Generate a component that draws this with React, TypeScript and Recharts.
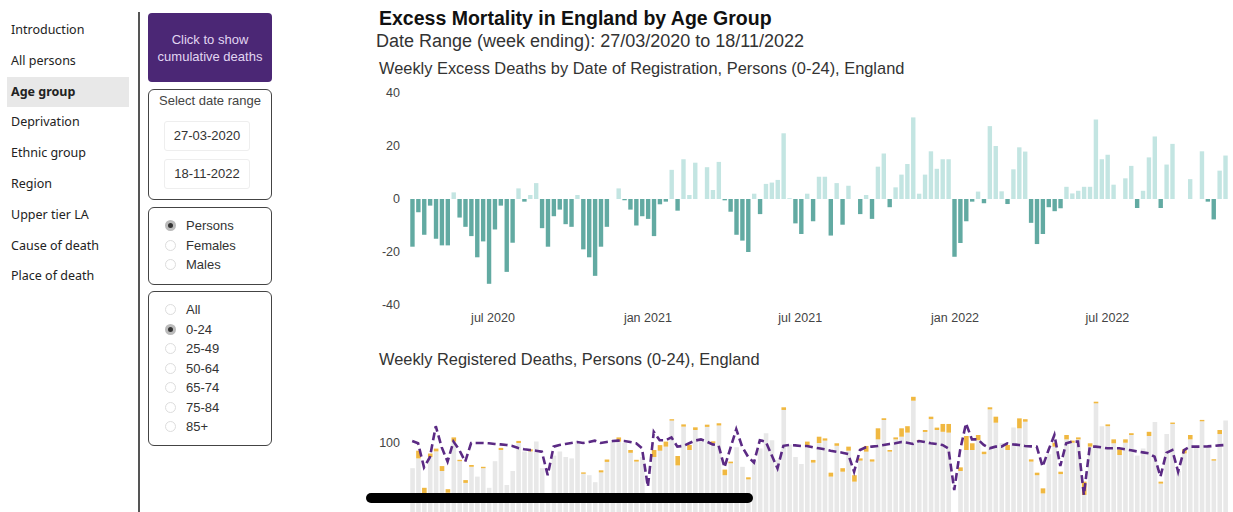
import { BarChart, Bar, Cell, XAxis, YAxis, ComposedChart, Line } from 'recharts';

// week ending dates start here, one bar per week
const firstWeek = '2020-03-27';

// weekly excess deaths, persons 0-24
const excess = [
  -18, -5, -13.5, -2.5, -15, -17.5, -17.5, 2.5, -7, -10.5,
  -14, -22, -16, -32, -11.5, -2.5, -27.5, -16.5, 4, -1,
  1.5, 6, -11, -18, -6.5, -4, -9.5, -10.5, 1.5, -19,
  -22, -29, -18, -10.5, 0, 4, -0.5, -4, -10, -6.5,
  -7.5, -14, -2, -1, 11, -4.4, 15, 1.5, 13.7, 0,
  12, 3.4, 14, -0.5, -4.8, -13.5, -15.7, -20, 2, -5.7,
  5.7, 6.2, 7.2, 24.8, 0.3, -9.2, -13.2, 2, -8.4, 8.4,
  8.4, -13.8, 6, -9.7, 5, 0, -5.7, 1.5, -7.5, 12.2,
  17.2, -3.1, 4.4, 9.2, 13.2, 30.8, 2, 9.2, 18, 11.4,
  15, 15, -21.8, -16.6, -8.4, -1, 2.8, -1.6, 27.5, 20,
  2.9, -1.9, 11.2, 19.5, 17.9, -9, -17, -13.2, -3.1, -4.6,
  -3.5, 4.6, 2.1, 3.1, 4.6, 4.6, 30, 15, 16.7, 5.4,
  0, 7.8, 12.5, -3.4, 3.1, 15.7, 23.6, -3.4, 13, 20.8,
  0, 0, 7.5, 0, 18, -1, -7.7, 10.7, 16.4,
];

// registered deaths split: grey part and orange part stacked on top
const registeredGrey = [
  82, 89, 64, 90, 94, 80, 64.5, 101, 87, 71.5,
  83, 76, 82, 68, 87, 95, 70, 80, 100, 94,
  94, 101, 82, 59, 91, 94, 90, 89, 101, 78,
  77, 72, 79, 86.5, 101, 101, 100, 93, 86.7, 90,
  61, 90, 94.5, 97.4, 116, 84, 111.7, 95, 109.3, 103,
  111.5, 100, 112.5, 77, 85.5, 97, 83, 74, 87, 96,
  107, 102, 88, 123.6, 99, 90, 85, 98.6, 86, 100,
  101.7, 76, 98, 79.5, 94.5, 72.4, 87.4, 93.8, 86.7, 102.6,
  116.4, 93.8, 102.6, 104.5, 107.4, 130.2, 101, 107.9, 117.1, 109.3,
  108, 107.4, 45, 80, 95, 95, 102, 92, 124, 114.5,
  100, 95, 111, 110.5, 115.2, 86.7, 77, 64, 92, 97.4,
  77.8, 102.6, 100.2, 102.6, 62.9, 97.4, 128.3, 112, 112, 99.8,
  91.4, 100.2, 105.7, 91, 96, 105, 115, 71, 106.5, 113.6,
  80, 92.6, 102.6, 97, 115.5, 97, 87.4, 106.4, 116,
];
const registeredOrange = [
  0, 5.5, 4, 2.5, 2, 3.5, 2.5, 3, 1, 2,
  1.3, 0, 1, 0, 0, 1.5, 0, 0, 1.5, 0,
  1.5, 0, 0, 0, 0, 0, 0, 0, 0, 1,
  0, 0, 1.5, 1.7, 0, 3, 0, 2, 1.3, 0,
  0, 5, 4, 3.6, 1, 6.7, 1.6, 3.6, 1.9, 0,
  1.6, 1.2, 1.6, 4, 1.2, 0, 0, 1.5, 0, 0,
  0, 0, 0, 1.9, 0, 0, 0, 2.4, 1.9, 4.5,
  1.6, 2.8, 1.8, 2.5, 2.9, 4.6, 1.6, 4.1, 1.6, 7.9,
  1.2, 1.2, 1.4, 6, 4.6, 2.8, 1.2, 1.4, 1.7, 1.7,
  5.6, 6.2, 0, 2.6, 10, 4.8, 3.7, 1.8, 1.5, 4.3,
  0, 3.6, 0, 7.1, 1.8, 1.6, 1.8, 3.6, 0, 2.8,
  1.7, 3.1, 1.5, 1.4, 9.5, 2.4, 1.2, 0, 1.3, 2.8,
  4.1, 2.4, 1.3, 0, 0, 3, 0, 1.4, 0, 1,
  0, 2.9, 3.1, 0, 1, 0, 1, 2.9, 0,
];

// expected deaths (dashed line)
const expected = [
  101.4, 99.8, 82.6, 89.8, 112, 97, 86.7, 101, 95, 86.7,
  100, 100, 100, 99.8, 99.3, 99, 98.6, 97.9, 96.4, 95.5,
  95, 94.5, 93.8, 77, 97.4, 98.6, 99.3, 100, 100.7, 100,
  100.7, 101.7, 100, 100.7, 101.4, 101.7, 101.4, 100.7, 99.8, 96.2,
  68.8, 108, 102, 102, 104, 97.4, 97.9, 99.8, 101.7, 102.6,
  101, 99, 98.3, 82.6, 96.2, 109.8, 97.4, 90.2, 86, 102,
  101, 91.4, 81.9, 98, 98.6, 98.3, 97.9, 97.9, 96.9, 96.2,
  95.5, 94.5, 93.8, 93.1, 92.1, 79.5, 95, 96.9, 97.4, 97.9,
  98.6, 99.3, 99.8, 100.7, 100.2, 99.3, 101.4, 100.7, 99.8, 99.3,
  98.6, 96.2, 66.4, 95, 114, 102.6, 102.6, 98.6, 96.2, 97.4,
  97.4, 99.8, 99, 98.6, 97.9, 97.6, 97.4, 83.1, 95, 105.7,
  83.6, 99.8, 101, 101, 62.9, 97.4, 97.4, 96.9, 96.2, 96.2,
  96.2, 95.5, 94.8, 94, 93.3, 92.6, 90.2, 76, 93, 95,
  79.5, 95, 97.4, 97.4, 97.4, 97.6, 97.9, 98.3, 98.6,
];

const monthTicks = ['2020-07-01', '2021-01-01', '2021-07-01', '2022-01-01', '2022-07-01'];
const monthLabels = ['jul 2020', 'jan 2021', 'jul 2021', 'jan 2022', 'jul 2022'];

const navItems = ['Introduction', 'All persons', 'Age group', 'Deprivation', 'Ethnic group',
  'Region', 'Upper tier LA', 'Cause of death', 'Place of death'];
const sexOptions = ['Persons', 'Females', 'Males'];
const ageOptions = ['All', '0-24', '25-49', '50-64', '65-74', '75-84', '85+'];

const DAY = 86400000;
const dayOf = (iso: string) => Math.round((Date.parse(iso) - Date.parse(firstWeek)) / DAY);
const tickDays = monthTicks.map(dayOf);

const weeks = excess.map((v, i) => ({
  day: i * 7,
  excess: v,
  grey: registeredGrey[i],
  orange: registeredOrange[i],
  expected: expected[i],
}));

const DARK = '#62aaa2';
const LIGHT = '#c3e5e2';
const FONT = '"Liberation Sans", Arial, sans-serif';
const tickStyle = { fill: '#444', fontSize: 12.5, fontFamily: FONT };
const xDomain = [-5, 974];

function Radio({ label, top, on }: { label: string; top: number; on: boolean }) {
  return (
    <div style={{ position: 'absolute', left: 16, top: top - 8, display: 'flex', alignItems: 'center' }}>
      <span style={{
        width: 11, height: 11, borderRadius: '50%', boxSizing: 'border-box',
        border: on ? '3px solid #bbb' : '1px solid #ddd',
        background: on ? '#333' : '#fff', marginRight: 10,
      }} />
      <span style={{ fontSize: 13, color: '#333' }}>{label}</span>
    </div>
  );
}

export default function App() {
  const tickLabel = (d: number) => monthLabels[tickDays.indexOf(d)] ?? '';
  return (
    <div style={{ position: 'absolute', left: 0, top: 0, width: 1233, height: 512, overflow: 'hidden',
      background: '#fff', fontFamily: FONT }}>
      {/* sidebar */}
      {navItems.map((n, i) => (
        <div key={n} style={{
          position: 'absolute', left: 7, top: 15 + i * 30.8, width: 122, height: 30,
          background: n === 'Age group' ? '#e8e8e8' : 'transparent',
          fontFamily: '"Noto Sans", sans-serif', fontSize: 12.5, lineHeight: '30px',
          paddingLeft: 4, boxSizing: 'border-box', color: '#222',
          fontWeight: n === 'Age group' ? 700 : 400,
        }}>{n}</div>
      ))}
      <div style={{ position: 'absolute', left: 138, top: 12, width: 2, height: 500, background: '#555' }} />

      {/* controls */}
      <div style={{
        position: 'absolute', left: 148, top: 13, width: 124, height: 69, background: '#4b2775',
        borderRadius: 4, color: '#e2d6f2', fontSize: 13, textAlign: 'center',
        display: 'flex', alignItems: 'center', justifyContent: 'center', lineHeight: '17px',
      }}>Click to show<br />cumulative deaths</div>

      <div style={{ position: 'absolute', left: 148, top: 89, width: 124, height: 111,
        border: '1.5px solid #444', borderRadius: 6, boxSizing: 'border-box' }}>
        <div style={{ position: 'absolute', left: 0, right: 0, top: 3, textAlign: 'center', fontSize: 13, color: '#444' }}>
          Select date range</div>
        {['27-03-2020', '18-11-2022'].map((d, i) => (
          <div key={d} style={{ position: 'absolute', left: 15, top: 31 + i * 38, width: 84, height: 28,
            border: '1px solid #eee', borderRadius: 3, fontSize: 13, color: '#333',
            textAlign: 'center', lineHeight: '28px' }}>{d}</div>
        ))}
      </div>

      <div style={{ position: 'absolute', left: 148, top: 207, width: 124, height: 78,
        border: '1.5px solid #444', borderRadius: 6, boxSizing: 'border-box' }}>
        {sexOptions.map((s, i) => <Radio key={s} label={s} top={18 + i * 19.5} on={i === 0} />)}
      </div>

      <div style={{ position: 'absolute', left: 148, top: 291, width: 124, height: 155,
        border: '1.5px solid #444', borderRadius: 6, boxSizing: 'border-box' }}>
        {ageOptions.map((s, i) => <Radio key={s} label={s} top={18 + i * 19.5} on={i === 1} />)}
      </div>

      {/* titles */}
      <div style={{ position: 'absolute', left: 379, top: 7, fontSize: 19.5, fontWeight: 700, color: '#111' }}>
        Excess Mortality in England by Age Group</div>
      <div style={{ position: 'absolute', left: 376, top: 31, fontSize: 18, color: '#333' }}>
        Date Range (week ending): 27/03/2020 to 18/11/2022</div>
      <div style={{ position: 'absolute', left: 379, top: 59, fontSize: 16.4, color: '#333' }}>
        Weekly Excess Deaths by Date of Registration, Persons (0-24), England</div>
      <div style={{ position: 'absolute', left: 379, top: 350, fontSize: 16.4, color: '#333' }}>
        Weekly Registered Deaths, Persons (0-24), England</div>

      {/* weekly excess deaths */}
      <div style={{ position: 'absolute', left: 370, top: 80 }}>
        <BarChart width={863} height={250} data={weeks} margin={{ top: 13, right: 1, left: 0, bottom: 0 }}>
          <XAxis type="number" dataKey="day" domain={xDomain} ticks={tickDays} tickFormatter={tickLabel}
            axisLine={false} tickLine={false} tick={tickStyle} height={25} allowDataOverflow />
          <YAxis domain={[-40, 40]} ticks={[-40, -20, 0, 20, 40]} axisLine={false} tickLine={false}
            tick={tickStyle} width={38} allowDataOverflow />
          <Bar dataKey="excess" barSize={4.4} isAnimationActive={false}>
            {weeks.map((w) => <Cell key={w.day} fill={w.excess < 0 ? DARK : LIGHT} />)}
          </Bar>
        </BarChart>
      </div>

      {/* weekly registered deaths */}
      <div style={{ position: 'absolute', left: 370, top: 380 }}>
        <ComposedChart width={863} height={210} data={weeks} margin={{ top: 7, right: 1, left: 0, bottom: 7 }}>
          <XAxis type="number" dataKey="day" domain={xDomain} hide allowDataOverflow />
          <YAxis domain={[0, 140]} ticks={[0, 100]} axisLine={false} tickLine={false}
            tick={tickStyle} width={38} allowDataOverflow />
          <Bar dataKey="grey" stackId="r" fill="#e8e8e8" barSize={4.6} isAnimationActive={false} />
          <Bar dataKey="orange" stackId="r" fill="#f0b841" barSize={4.6} isAnimationActive={false} />
          <Line dataKey="expected" type="linear" stroke="#5b2a84" strokeWidth={2.6} strokeDasharray="8 4"
            dot={false} isAnimationActive={false} />
        </ComposedChart>
      </div>

      {/* phone home indicator */}
      <div style={{ position: 'absolute', left: 366, top: 493, width: 387, height: 10,
        borderRadius: 5, background: '#000' }} />
    </div>
  );
}
